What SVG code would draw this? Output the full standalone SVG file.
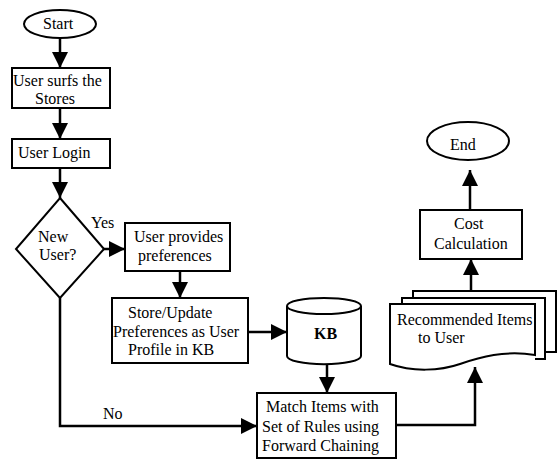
<svg xmlns="http://www.w3.org/2000/svg" width="558" height="461" viewBox="0 0 558 461">
<style>
.s{fill:#fff;stroke:#000;stroke-width:2}
.l{fill:none;stroke:#000;stroke-width:2.5}
text{font-family:'Liberation Serif','Times New Roman',Times,serif;font-size:16px;fill:#000}
.b{font-weight:bold}
</style>
<defs>
<marker id="ah" viewBox="0 0 16 16" refX="16" refY="8" markerWidth="16" markerHeight="16" markerUnits="userSpaceOnUse" orient="auto">
<path d="M0,0 L16,8 L0,16 Z" fill="#000"/>
</marker>
</defs>
<rect width="558" height="461" fill="#fff"/>
<g font-family="Liberation Serif, Times New Roman, serif" font-size="16">
<g id="connectors">
<line class="l" x1="60" y1="38" x2="60" y2="68" marker-end="url(#ah)"/>
<line class="l" x1="60" y1="108" x2="60" y2="139" marker-end="url(#ah)"/>
<line class="l" x1="60" y1="168" x2="60" y2="198" marker-end="url(#ah)"/>
<line class="l" x1="103" y1="249" x2="125" y2="249" marker-end="url(#ah)"/>
<line class="l" x1="180" y1="271" x2="180" y2="298" marker-end="url(#ah)"/>
<line class="l" x1="248" y1="332" x2="287" y2="332" marker-end="url(#ah)"/>
<line class="l" x1="327" y1="364" x2="327" y2="393" marker-end="url(#ah)"/>
<polyline class="l" points="60,298 60,426 257,426" marker-end="url(#ah)"/>
<polyline class="l" points="396,425 475,425 475,367" marker-end="url(#ah)"/>
<line class="l" x1="471" y1="290" x2="471" y2="259" marker-end="url(#ah)"/>
<line class="l" x1="470" y1="210" x2="470" y2="170" marker-end="url(#ah)"/>
<text x="91" y="228">Yes</text>
<text x="103" y="419">No</text>
</g>
<g id="start">
<ellipse class="s" cx="60" cy="24" rx="36" ry="14"/>
<text x="43" y="29">Start</text>
</g>
<g id="surf">
<rect class="s" x="12" y="68" width="98" height="40"/>
<text x="13" y="86">User surfs the</text>
<text x="35" y="104">Stores</text>
</g>
<g id="login">
<rect class="s" x="12" y="139" width="98" height="29"/>
<text x="18" y="158">User Login</text>
</g>
<g id="newuser">
<polygon class="s" points="60,198 104,249 60,298 16,249"/>
<text x="38" y="242">New</text>
<text x="39" y="260">User?</text>
</g>
<g id="provides">
<rect class="s" x="125" y="223" width="105" height="48"/>
<text x="134" y="242">User provides</text>
<text x="138" y="261">preferences</text>
</g>
<g id="store">
<rect class="s" x="112" y="298" width="136" height="65"/>
<text x="128" y="318">Store/Update</text>
<text x="113" y="337">Preferences as User</text>
<text x="128" y="355">Profile in KB</text>
</g>
<g id="kb">
<path class="s" d="M287,306 V356 A36,8 0 0 0 361,356 V306"/>
<ellipse class="s" cx="324" cy="306" rx="37" ry="8"/>
<text class="b" x="314" y="339">KB</text>
</g>
<g id="match">
<rect class="s" x="257" y="393" width="139" height="65"/>
<text x="266" y="412">Match Items with</text>
<text x="262" y="432">Set of Rules using</text>
<text x="262" y="451">Forward Chaining</text>
</g>
<g id="recommended">
<path class="s" d="M413,298 V291 H556 V352 H545"/>
<path class="s" d="M402,304 V298 H545 V359 H535"/>
<path class="s" d="M390,304 H535 V355 C505,350 480,357 460,364 C440,371 412,372 390,364 Z"/>
<text x="397" y="325">Recommended Items</text>
<text x="418" y="343">to User</text>
</g>
<g id="cost">
<rect class="s" x="420" y="210" width="102" height="49"/>
<text x="454" y="229">Cost</text>
<text x="434" y="249">Calculation</text>
</g>
<g id="end">
<ellipse class="s" cx="468" cy="141" rx="41" ry="19"/>
<text x="450" y="150">End</text>
</g>
</g>
</svg>
